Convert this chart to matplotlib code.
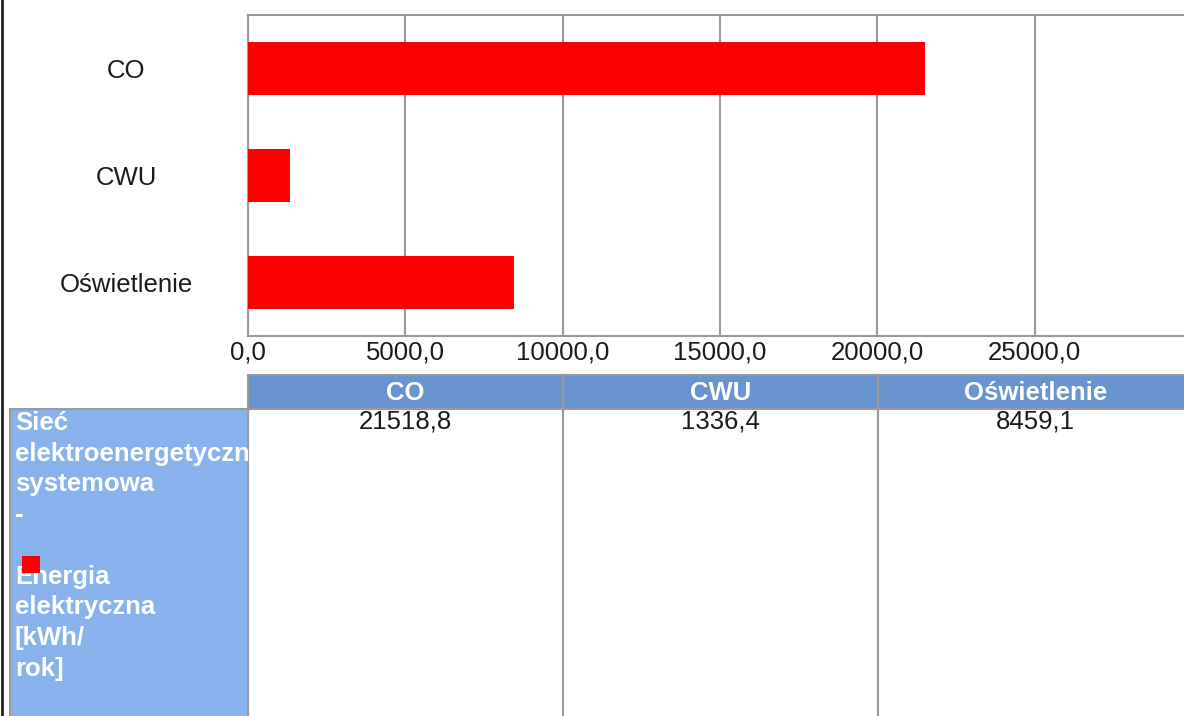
from matplotlib import pyplot as plt
from matplotlib.patches import Rectangle
import numpy as np

# data
categories = ['CO', 'CWU', 'Oświetlenie']
values = [21518.8, 1336.4, 8459.1]
xticks = [0, 5000, 10000, 15000, 20000, 25000]
row_label = 'Sieć\nelektroenergetyczna\nsystemowa\n-\n\nEnergia\nelektryczna\n[kWh/\nrok]'

plt.rcParams['font.family'] = ['Liberation Sans', 'DejaVu Sans']

W, H = 1184, 716
fig = plt.figure(figsize=(W/100., H/100.), dpi=100)

grid_c = '#9a9a9a'
bar_c = '#ff0000'
head_c = '#6895d0'
rowhead_c = '#87b2ec'
txt_c = '#1a1a1a'
fs = 18.5

def fmt(v):
    return '{:.1f}'.format(v).replace('.', ',')

# bar chart axes (pixels: x 248..1192, y 15..336) - right side is cut off by the figure
ax = fig.add_axes([248/W, 1-336/H, (1192-248)/W, (336-15)/H])
y = np.arange(len(categories))
ax.barh(y, values, height=0.49, color=bar_c, zorder=3)
ax.set_xlim(0, 30000)
ax.set_ylim(len(categories)-0.5, -0.5)
ax.set_xticks(xticks)
ax.set_xticklabels([fmt(t) for t in xticks], fontsize=fs, color=txt_c)
ax.set_yticks(y)
ax.set_yticklabels(categories, fontsize=fs, color=txt_c, ha='center')
ax.tick_params(axis='y', length=0, pad=87.5)
ax.tick_params(axis='x', length=0, pad=3)
ax.grid(axis='x', color=grid_c, lw=1.5, zorder=1)
for s in ax.spines.values():
    s.set_color(grid_c)
    s.set_linewidth(1.5)

# table below, drawn on an overlay axes in pixel coordinates
tx = fig.add_axes([0, 0, 1, 1], zorder=-1)
tx.set_xlim(0, W)
tx.set_ylim(H, 0)
tx.axis('off')

col_x0, col_w = 248, 315
head_top, head_bot = 375, 409
for i, c in enumerate(categories):
    x0 = col_x0 + i*col_w
    tx.add_patch(Rectangle((x0, head_top), col_w, head_bot-head_top, fc=head_c, ec=grid_c, lw=1.5))
    tx.text(x0+col_w/2, (head_top+head_bot)/2+1, c, color='white', fontsize=fs, fontweight='bold',
            ha='center', va='center')
    tx.add_patch(Rectangle((x0, head_bot), col_w, H-head_bot+5, fc='white', ec=grid_c, lw=1.5))
    tx.text(x0+col_w/2, head_bot+1, fmt(values[i]), color=txt_c,
            fontsize=fs, ha='center', va='top')

# row header cell
tx.add_patch(Rectangle((10, head_bot), col_x0-10, H-head_bot+5, fc=rowhead_c, ec=grid_c, lw=1.5))
t = tx.text(15, head_bot+2, row_label, color='white', fontsize=fs, fontweight='bold',
            ha='left', va='top', linespacing=1.355)
t.set_clip_path(Rectangle((10, head_bot), col_x0-11, H-head_bot, transform=tx.transData))
tx.add_patch(Rectangle((22, 556), 18, 17, fc=bar_c, ec='none', zorder=5))

# left frame line
tx.plot([2, 2], [0, H], color='#222', lw=2)

plt.savefig('out.png', dpi=100)
